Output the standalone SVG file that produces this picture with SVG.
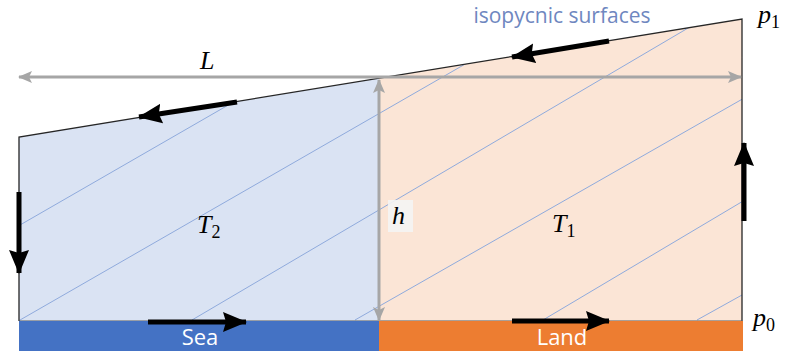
<svg xmlns="http://www.w3.org/2000/svg" width="787" height="360" viewBox="0 0 787 360">
<style>
.iso{stroke:#8FAADC;stroke-width:1;fill:none}
.blk{stroke:#000;stroke-width:5;fill:none;marker-end:url(#ah)}
.gry{stroke:#A6A6A6;stroke-width:3;fill:none;marker-start:url(#gh);marker-end:url(#gh)}
.math{font-family:"Liberation Serif",serif;font-style:italic;font-size:26px;fill:#000}
.sub{font-family:"Liberation Serif",serif;font-style:normal;font-size:18px;fill:#000}
.bar{font-family:"Open Sans",sans-serif;font-size:22px;fill:#fff;text-anchor:middle}
</style>
<defs>
<marker id="ah" markerUnits="userSpaceOnUse" markerWidth="24" markerHeight="22" viewBox="0 0 24 22" refX="23" refY="11" orient="auto">
<path d="M0,1 L24,11 L0,21 L3,11 Z" fill="#000"/>
</marker>
<marker id="gh" markerUnits="userSpaceOnUse" markerWidth="14" markerHeight="12" viewBox="0 0 14 12" refX="13" refY="6" orient="auto-start-reverse">
<path d="M0,0 L14,6 L0,12 L3,6 Z" fill="#A6A6A6"/>
</marker>
<clipPath id="poly"><polygon points="19,137 742,19 742,321 19,321"/></clipPath>
</defs>

<g id="sea-region">
<polygon points="19,137 379,78.25 379,321 19,321" fill="#DAE3F3"/>
</g>
<g id="land-region">
<polygon points="379,78.25 742,19 742,321 379,321" fill="#FBE5D6"/>
</g>

<g id="isopycnic-lines" clip-path="url(#poly)">
<line class="iso" x1="20" y1="225" x2="250" y2="92.5"/>
<line class="iso" x1="19" y1="320.6" x2="475" y2="58.4"/>
<line class="iso" x1="192" y1="320" x2="700" y2="21"/>
<line class="iso" x1="355" y1="320" x2="760" y2="89"/>
<line class="iso" x1="543" y1="320" x2="760" y2="191"/>
<line class="iso" x1="697" y1="320" x2="760" y2="285"/>
</g>

<g id="outline">
<polyline points="19,321 19,137 742,19 742,321" fill="none" stroke="#262626" stroke-width="1.3"/>
<line x1="19" y1="321" x2="742" y2="321" stroke="#595959" stroke-width="1"/>
</g>

<g id="sea">
<rect x="19" y="321" width="360" height="30" fill="#4472C4"/>
<text class="bar" x="200" y="345">Sea</text>
</g>
<g id="land">
<rect x="379" y="321" width="364" height="30" fill="#ED7D31"/>
<text class="bar" x="562" y="345">Land</text>
</g>

<g id="connectors">
<line class="gry" x1="19" y1="77" x2="741" y2="77"/>
<line class="gry" x1="379" y1="80" x2="379" y2="320"/>
<line class="blk" x1="609" y1="41" x2="512" y2="57"/>
<line class="blk" x1="237" y1="102" x2="139" y2="117"/>
<line class="blk" x1="19" y1="192" x2="19" y2="273"/>
<line class="blk" x1="744" y1="221" x2="744" y2="143"/>
<line class="blk" x1="148" y1="322" x2="246" y2="322"/>
<line class="blk" x1="512" y1="321" x2="609" y2="321"/>
</g>

<g id="labels">
<text x="562" y="23" font-family="Open Sans, sans-serif" font-size="21" fill="#6F87BF" text-anchor="middle">isopycnic surfaces</text>
<text class="math" x="200" y="69">L</text>
<rect x="388" y="200" width="25" height="32" fill="#F4F4F4" opacity="0.9"/>
<text class="math" x="392" y="224">h</text>
<text class="math" x="197" y="233">T<tspan class="sub" dy="5">2</tspan></text>
<text class="math" x="552" y="232">T<tspan class="sub" dy="5">1</tspan></text>
<text class="math" x="758" y="23">p<tspan class="sub" dy="5">1</tspan></text>
<text class="math" x="753" y="326">p<tspan class="sub" dy="5">0</tspan></text>
</g>
</svg>
